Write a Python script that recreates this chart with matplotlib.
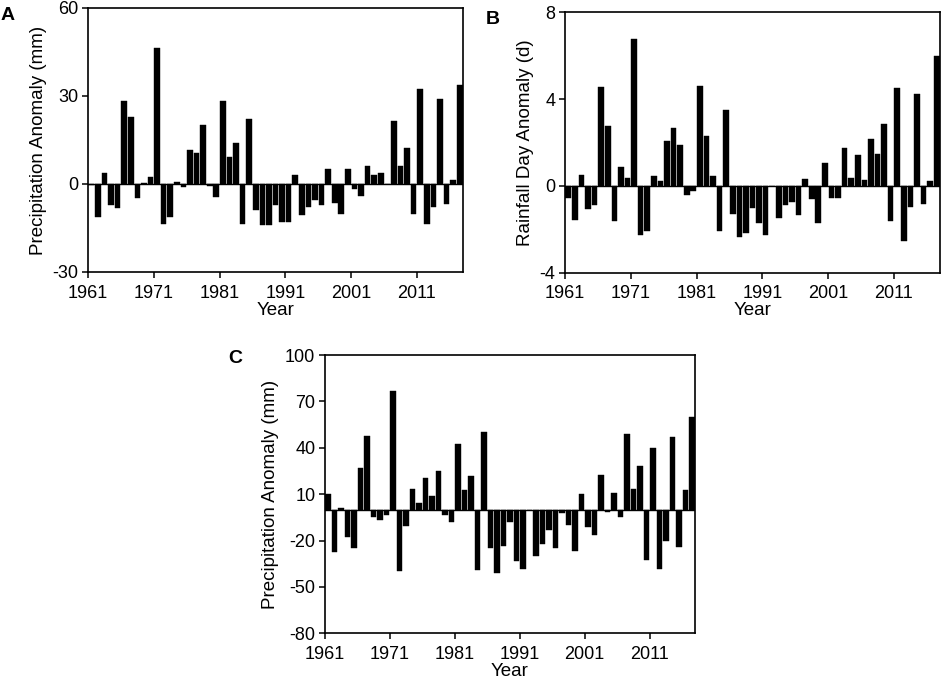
import numpy as np
import matplotlib.pyplot as plt

plt.rcParams['font.family'] = ['Liberation Sans', 'DejaVu Sans']
plt.rcParams['axes.unicode_minus'] = False

years = list(range(1961, 2018))

# A: precipitation anomaly (mm)
precip_a = [-0.5, -11.4, 3.9, -7.1, -8.2, 28.3, 23.0, -4.9, 0.3, 2.4,
            46.3, -13.5, -11.4, 0.7, -0.9, 11.6, 10.7, 20.2, -0.6, -4.3,
            28.3, 9.2, 14.1, -13.5, 22.0, -8.8, -14.0, -14.0, -7.0, -12.9,
            -13.1, 3.0, -10.6, -7.9, -5.4, -7.0, 5.1, -6.4, -10.3, 5.1,
            -1.8, -4.2, 6.2, 3.2, 3.9, 0.1, 21.6, 6.2, 12.4, -10.3,
            32.3, -13.6, -7.9, 29.1, -6.7, 1.5, 33.6]

# B: rainfall day anomaly (d)
rainday_b = [-0.55, -1.57, 0.49, -1.05, -0.89, 4.55, 2.77, -1.63, 0.88, 0.38,
             6.77, -2.28, -2.08, 0.46, 0.22, 2.06, 2.68, 1.86, -0.43, -0.25,
             4.58, 2.28, 0.46, -2.1, 3.49, -1.32, -2.35, -2.18, -1.02, -1.71,
             -2.25, -0.02, -1.49, -0.89, -0.74, -1.34, 0.29, -0.63, -1.71, 1.05,
             -0.58, -0.58, 1.75, 0.37, 1.43, 0.26, 2.15, 1.48, 2.86, -1.63,
             4.49, -2.54, -0.98, 4.23, -0.86, 0.22, 6.0]

# C: precipitation anomaly (mm)
precip_c = [10.3, -27.2, 0.8, -17.8, -24.7, 26.7, 47.7, -4.5, -6.7, -3.3,
            76.7, -39.5, -10.6, 13.4, 4.1, 20.5, 8.8, 25.2, -3.2, -7.8,
            42.5, 12.7, 21.8, -39.0, 50.2, -24.6, -41.2, -23.7, -7.7, -33.0,
            -38.1, -0.3, -30.0, -22.2, -13.1, -24.6, -2.2, -9.9, -26.5, 10.1,
            -11.0, -16.2, 22.4, -1.5, 10.6, -4.7, 49.1, 13.4, 28.2, -32.8,
            39.7, -38.1, -20.0, 47.2, -24.1, 12.7, 59.9]

panels = [
    ('A', precip_a, 'Precipitation Anomaly (mm)', [-30, 0, 30, 60],
     [88 / 941, 1 - 272 / 686, 375 / 941, 264 / 686], (1, 20)),
    ('B', rainday_b, 'Rainfall Day Anomaly (d)', [-4, 0, 4, 8],
     [565 / 941, 1 - 272.5 / 686, 375 / 941, 260.2 / 686], (486, 24)),
    ('C', precip_c, 'Precipitation Anomaly (mm)', [-80, -50, -20, 10, 40, 70, 100],
     [325 / 941, 1 - 633.3 / 686, 370 / 941, 278.3 / 686], (228, 363)),
]

fig = plt.figure(figsize=(9.41, 6.86), dpi=100)

for name, vals, ylab, yt, rect, lpos in panels:
    ax = fig.add_axes(rect)
    x = np.array(years) + 0.5
    ax.bar(x, vals, width=0.85, color='black', edgecolor='black', linewidth=0.3)
    ax.axhline(0, color='black', linewidth=1.0)
    ax.set_xlim(years[0], years[-1] + 1)
    ax.set_ylim(yt[0], yt[-1])
    ax.set_yticks(yt)
    ax.set_xticks(years[::10])
    ax.set_xticklabels([str(y) for y in years[::10]])
    ax.tick_params(direction='out', length=4, width=1.1, labelsize=13)
    ax.tick_params(axis='x', pad=5)
    ax.tick_params(axis='y', pad=3)
    for s in ax.spines.values():
        s.set_linewidth(1.2)
    ax.set_xlabel('Year', fontsize=13.5, labelpad=0)
    ax.set_ylabel(ylab, fontsize=13.5, labelpad=4)
    fig.text(lpos[0] / 941, 1 - lpos[1] / 686, name,
             fontsize=14, fontweight='bold')

fig.savefig('out.png', dpi=100)
